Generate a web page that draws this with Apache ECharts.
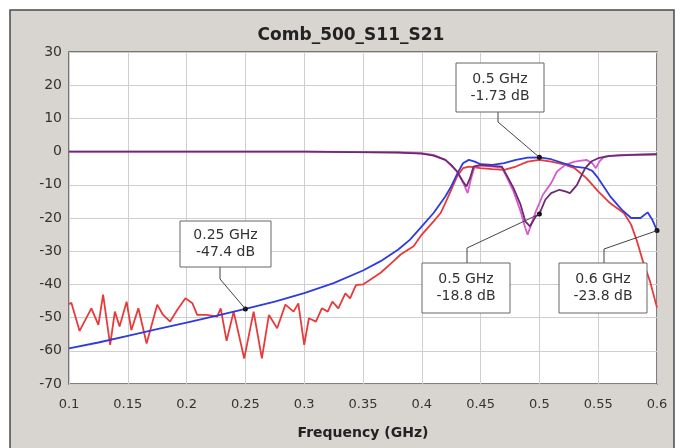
<!DOCTYPE html>
<html>
<head>
<meta charset="utf-8">
<script src="https://cdn.jsdelivr.net/npm/echarts@6/dist/echarts.min.js"></script>
<style>
  html, body { margin: 0; padding: 0; background: #fff; }
  #chart { width: 680px; height: 448px; }
</style>
</head>
<body>
<div id="chart"></div>
<script>
// S21 simulated (blue), [GHz, dB]
var s21Sim = [
  [0.100, -59.3], [0.125, -57.5], [0.150, -55.5], [0.175, -53.5], [0.200, -51.5],
  [0.225, -49.5], [0.250, -47.4], [0.275, -45.2], [0.300, -42.6], [0.325, -39.6],
  [0.350, -35.8], [0.365, -33.0], [0.380, -29.5], [0.390, -26.5], [0.400, -22.5],
  [0.410, -18.5], [0.420, -13.5], [0.425, -10.5], [0.430, -6.8], [0.435, -3.5],
  [0.440, -2.5], [0.445, -3.0], [0.450, -3.8], [0.460, -4.0], [0.470, -3.5],
  [0.480, -2.5], [0.490, -1.8], [0.500, -1.73], [0.510, -2.3], [0.520, -3.5],
  [0.530, -4.5], [0.540, -5.0], [0.545, -5.8], [0.550, -8.0], [0.560, -13.4],
  [0.570, -17.5], [0.578, -20.0], [0.586, -20.0], [0.592, -18.3], [0.596, -20.5],
  [0.600, -23.8]
];
// S21 measured (red)
var s21Meas = [
  [0.100, -46], [0.102, -45.5], [0.109, -54], [0.119, -47.2], [0.125, -52.2],
  [0.129, -43.1], [0.135, -58.2], [0.139, -48.2], [0.143, -52.7], [0.149, -45.2],
  [0.153, -53.8], [0.159, -47.2], [0.166, -57.8], [0.175, -46.1], [0.180, -49.2],
  [0.186, -51.2], [0.192, -47.7], [0.199, -44.2], [0.205, -45.7], [0.209, -49.2],
  [0.217, -49.2], [0.226, -49.7], [0.229, -47.2], [0.234, -57.0], [0.240, -48.2],
  [0.249, -62.3], [0.257, -48.2], [0.264, -62.3], [0.270, -49.2], [0.277, -53.2],
  [0.284, -46.1], [0.291, -48.2], [0.295, -45.7], [0.300, -58.2], [0.304, -50.2],
  [0.310, -51.2], [0.315, -47.2], [0.320, -48.2], [0.324, -45.2], [0.329, -47.2],
  [0.335, -42.7], [0.339, -44.2], [0.344, -40.2], [0.350, -40.0], [0.365, -36.5],
  [0.376, -33.0], [0.382, -31.0], [0.393, -28.5], [0.400, -25.0], [0.410, -21.0],
  [0.416, -18.5], [0.420, -15.5], [0.425, -11.5], [0.430, -7.5], [0.435, -5.0],
  [0.440, -4.5], [0.450, -5.0], [0.460, -5.3], [0.470, -5.5], [0.480, -4.5],
  [0.490, -3.0], [0.500, -2.5], [0.510, -3.0], [0.520, -3.8], [0.530, -5.0],
  [0.540, -8.0], [0.550, -12.0], [0.560, -15.5], [0.572, -18.6], [0.578, -22.0],
  [0.583, -27.0], [0.588, -33.0], [0.594, -39.0], [0.600, -47.0]
];
// S11 simulated (dark purple)
var s11Sim = [
  [0.100, 0], [0.200, 0], [0.300, 0], [0.380, -0.3], [0.400, -0.6],
  [0.410, -1.2], [0.420, -2.5], [0.425, -4.0], [0.430, -6.0], [0.435, -9.0],
  [0.438, -10.5], [0.441, -8.0], [0.444, -4.5], [0.450, -4.0], [0.460, -4.3],
  [0.468, -4.5], [0.472, -7.0], [0.478, -11.0], [0.484, -16.0], [0.488, -21.0],
  [0.492, -22.5], [0.497, -19.5], [0.500, -18.8], [0.505, -14.5], [0.510, -12.5],
  [0.517, -11.5], [0.522, -12.0], [0.526, -12.5], [0.532, -10.0], [0.536, -7.0],
  [0.539, -5.0], [0.544, -3.0], [0.550, -2.0], [0.560, -1.3], [0.580, -1.0],
  [0.600, -0.8]
];
// S11 measured (pink)
var s11Meas = [
  [0.100, 0], [0.200, 0], [0.300, 0], [0.380, -0.2], [0.400, -0.5],
  [0.410, -1.0], [0.420, -2.5], [0.430, -6.0], [0.436, -10.0], [0.439, -12.5],
  [0.442, -8.0], [0.445, -4.5], [0.450, -4.2], [0.460, -4.5], [0.468, -4.8],
  [0.472, -7.5], [0.478, -12.0], [0.484, -18.0], [0.488, -23.0], [0.490, -25.0],
  [0.493, -22.0], [0.497, -18.0], [0.503, -13.0], [0.510, -9.5], [0.515, -6.0],
  [0.522, -4.0], [0.530, -3.0], [0.540, -2.5], [0.545, -3.5], [0.548, -5.0],
  [0.551, -3.0], [0.555, -1.5], [0.570, -1.0], [0.600, -0.8]
];

// marker readouts: [GHz, dB, series index]
var markers = [
  [0.25, -47.4, 0],
  [0.5, -1.73, 0],
  [0.5, -18.8, 2],
  [0.6, -23.8, 0]
];
var markerText = ["0.25 GHz\n-47.4 dB", "0.5 GHz\n-1.73 dB", "0.5 GHz\n-18.8 dB", "0.6 GHz\n-23.8 dB"];

var font = "'DejaVu Sans', Verdana, sans-serif";
var myChart = echarts.init(document.getElementById("chart"));

function line(name, data, color, z) {
  return {
    name: name, type: "line", data: data, z: z,
    showSymbol: false, symbol: "none", animation: false,
    lineStyle: { color: color, width: 1.8 },
    markPoint: { data: [] }
  };
}

var series = [
  line("S21 sim", s21Sim, "#2c3ce0", 4),
  line("S21 meas", s21Meas, "#e83a3a", 3),
  line("S11 sim", s11Sim, "#6e2a70", 4),
  line("S11 meas", s11Meas, "#d65cd0", 3)
];
markers.forEach(function (m) {
  series[m[2]].markPoint.data.push({ coord: [m[0], m[1]] });
});
series.forEach(function (s) {
  s.markPoint.symbol = "circle";
  s.markPoint.symbolSize = 5;
  s.markPoint.itemStyle = { color: "#111" };
  s.markPoint.label = { show: false };
  s.markPoint.silent = true;
});

var option = {
  animation: false,
  backgroundColor: "#fff",
  title: {
    text: "Comb_500_S11_S21",
    left: 346, top: 22, textAlign: "center",
    textStyle: { fontFamily: font, fontSize: 17, fontWeight: "bold", color: "#222" }
  },
  grid: {
    left: 69, right: 23, top: 52, bottom: 64,
    show: true, backgroundColor: "#fff", borderColor: "#555", borderWidth: 1.5
  },
  xAxis: {
    type: "value", min: 0.1, max: 0.6, interval: 0.05,
    name: "Frequency (GHz)", nameLocation: "middle", nameGap: 42,
    nameTextStyle: { fontFamily: font, fontSize: 14, fontWeight: "bold", color: "#222" },
    axisLine: { show: false }, axisTick: { show: false },
    axisLabel: {
      fontFamily: font, fontSize: 13, color: "#333", margin: 14,
      formatter: function (v) { return String(+v.toFixed(2)); }
    },
    splitLine: { lineStyle: { color: "#cfcfcf", width: 1 } }
  },
  yAxis: {
    type: "value", min: -70, max: 30, interval: 10,
    axisLine: { show: false }, axisTick: { show: false },
    axisLabel: { fontFamily: font, fontSize: 14, color: "#333", margin: 7 },
    splitLine: { lineStyle: { color: "#cfcfcf", width: 1 } }
  },
  series: series
};
myChart.setOption(option);

// callout boxes: [left, top, width, height], leader start and knee offsets
var boxes = [
  { rect: [180, 221, 91, 46], from: "bottom", fx: 220, knee: 12 },
  { rect: [456, 63, 88, 49], from: "bottom", fx: 498, knee: 10 },
  { rect: [422, 263, 88, 50], from: "top", fx: 467, knee: 15 },
  { rect: [559, 263, 88, 50], from: "top", fx: 604, knee: 14 }
];

var graphics = [
  { type: "rect", z: -10, silent: true, shape: { x: 10, y: 10, width: 664, height: 460 },
    style: { fill: "#d8d4d0", stroke: "#4a4a4a", lineWidth: 1.5 } }
];
boxes.forEach(function (b, i) {
  var m = markers[i];
  var p = myChart.convertToPixel({ gridIndex: 0 }, [m[0], m[1]]);
  var r = b.rect;
  var y0 = b.from === "bottom" ? r[1] + r[3] : r[1];
  var yk = b.from === "bottom" ? y0 + b.knee : y0 - b.knee;
  graphics.push({
    type: "polyline", z: 50, silent: true,
    shape: { points: [[b.fx, y0], [b.fx, yk], [p[0], p[1]]] },
    style: { stroke: "#444", lineWidth: 1, fill: null }
  });
  graphics.push({
    type: "rect", z: 51, silent: true,
    shape: { x: r[0], y: r[1], width: r[2], height: r[3] },
    style: { fill: "#fff", stroke: "#666", lineWidth: 1 }
  });
  graphics.push({
    type: "text", z: 52, silent: true,
    x: r[0] + r[2] / 2, y: r[1] + r[3] / 2,
    style: {
      text: markerText[i], fontFamily: font, fontSize: 14, fill: "#333",
      align: "center", verticalAlign: "middle", lineHeight: 17
    }
  });
});
myChart.setOption({ graphic: graphics });
</script>
</body>
</html>
